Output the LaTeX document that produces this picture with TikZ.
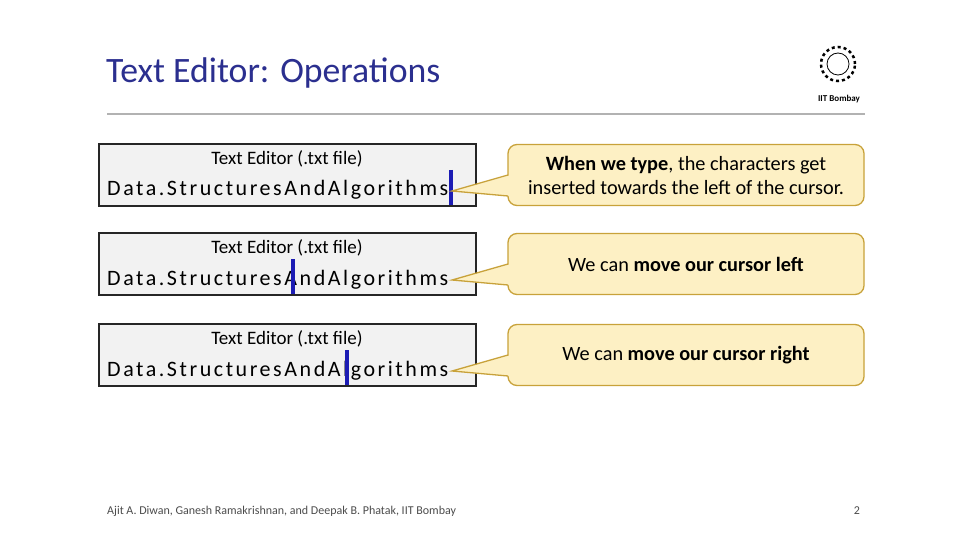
\documentclass[tikz,border=0pt]{standalone}
\usepackage{fontspec}
\setmainfont{Carlito}
\newfontfamily\spaced[LetterSpace=11.6]{Carlito}
\definecolor{ttl}{HTML}{2B2F8F}
\definecolor{cfill}{HTML}{FDF0C4}
\definecolor{cedge}{HTML}{C8A23A}
\definecolor{boxfill}{HTML}{F2F2F2}
\definecolor{cur}{HTML}{1C1CB4}
\tikzset{
 edbox/.style={draw=black!85,line width=1.3pt,fill=boxfill,minimum width=377pt,minimum height=62pt,inner sep=0pt},
 callbox/.style={draw=cedge,line width=1.3pt,fill=cfill,rounded corners=9pt,minimum width=356pt,minimum height=61pt,inner sep=0pt,align=center,font=\fontsize{20.3}{24}\selectfont},
 cursor/.style={draw=cur,line width=3.2pt},
 hdr/.style={font=\fontsize{19}{22}\selectfont},
 dtxt/.style={font=\fontsize{22}{26}\selectfont\spaced,anchor=base west,inner sep=0pt}
}
\begin{document}
\begin{tikzpicture}[x=1pt,y=-1pt]
\useasboundingbox[fill=white] (0,0) rectangle (960,540);
\node[anchor=base west,text=ttl,font=\fontsize{35.7}{40}\selectfont,inner sep=0pt] (title) at (106,83) {Text Editor: Operations};
\draw[gray!60,line width=2pt] (107,114) -- (865,114);
% logo
\node[circle,draw=black,line width=2.5pt,dashed,minimum size=34pt,inner sep=0pt] (logo) at (838,64) {};
\node[circle,draw=black,line width=0.8pt,minimum size=22pt,inner sep=0pt] (logoin) at (838,64) {};
\node[font=\bfseries\fontsize{9}{10}\selectfont,inner sep=0pt] (iit) at (839,99) {IIT Bombay};
% rows
\foreach \i/\y/\cx/\txt in {1/175/451/{\textbf{When we type}, the characters get\\inserted towards the left of the cursor.},2/264/293/{We can \textbf{move our cursor left}},3/355/347/{We can \textbf{move our cursor right}}}{
 \node[edbox] (b\i) at (287.5,\y) {};
 \node[hdr] (h\i) at (287,\y-16) {Text Editor (.txt file)};
 \node[dtxt] (d\i) at (107,\y+21) {Data.StructuresAndAlgorithms};
 \draw[cursor] (\cx,\y-5) -- (\cx,\y+30);
 \node[callbox] (c\i) at (686,\y) {\txt};
 \coordinate (tip\i) at (452,\y+16);
 \fill[cfill] (tip\i) -- (511,\y) -- (511,\y+21) -- cycle;
 \draw[cedge,line width=1.3pt] (508,\y) -- (tip\i) -- (508,\y+21);
}
\node[anchor=base west,text=black!70,font=\fontsize{12}{14}\selectfont,inner sep=0pt] (foot) at (107,514) {Ajit A. Diwan, Ganesh Ramakrishnan, and Deepak B. Phatak, IIT Bombay};
\node[anchor=base,text=black!70,font=\fontsize{12}{14}\selectfont,inner sep=0pt] (pg) at (857,514) {2};
\end{tikzpicture}
\end{document}
